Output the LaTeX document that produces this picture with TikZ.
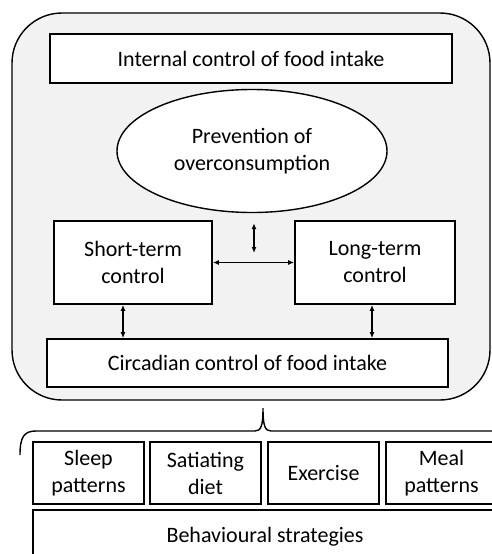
\documentclass[tikz,border=0pt]{standalone}
\usepackage{fontspec}
\setmainfont{Carlito}
\usetikzlibrary{arrows.meta,shapes.geometric}
\definecolor{panelgray}{RGB}{242,242,242}

\begin{document}
\begin{tikzpicture}[
  x=1pt, y=-1pt,
  font=\fontsize{22}{27}\selectfont,
  box/.style={draw, line width=1.7pt, fill=white, align=center, inner sep=0pt},
  oval/.style={draw, ellipse, line width=1.4pt, fill=white, align=center, inner sep=0pt},
  arrow/.style={{Latex[length=6pt,width=5pt]}-{Latex[length=6pt,width=5pt]}, line width=1.4pt}
]
\useasboundingbox (0,0) rectangle (492,554);
\clip (0,0) rectangle (492,554);
% outer panel
\draw[fill=panelgray, line width=1.4pt, rounded corners=50pt] (12,13) rectangle (490,400);
\node[box, minimum width=402pt, minimum height=49pt] (internal) at (251,58.5) {Internal control of food intake};
\node[oval, minimum width=270pt, minimum height=123pt] (prevent) at (252,151) {Prevention of\\overconsumption};
\node[box, minimum width=158pt, minimum height=83pt] (short) at (133,262.5) {Short-term\\control};
\node[box, minimum width=160pt, minimum height=83pt] (long) at (375,262.5) {Long-term\\control};
\node[box, minimum width=401pt, minimum height=48pt] (circadian) at (247.5,363) {Circadian control of food intake};
\coordinate (hub) at (254,253);
\draw[arrow, shorten <=10pt] (prevent.south -| hub) -- (hub);
\draw[arrow] (short) -- (long);
\draw[arrow] ([xshift=-10pt]short.south) -- ([xshift=-10pt]short.south |- circadian.north);
\draw[arrow] ([xshift=-3pt]long.south) -- ([xshift=-3pt]long.south |- circadian.north);
% brace
\draw[line width=1.4pt] (20,455) .. controls (20,437) and (24,431) .. (36,431) -- (255,431)
  .. controls (261,431) and (263,426) .. (263,408)
  .. controls (263,426) and (265,431) .. (271,431) -- (500,431);
% behavioural strategies
\node[box, minimum width=111pt, minimum height=62pt] (sleep) at (88.5,473) {Sleep\\patterns};
\node[box, minimum width=111pt, minimum height=62pt] (diet) at (205.5,473) {Satiating\\diet};
\node[box, minimum width=111pt, minimum height=62pt] (exercise) at (323.5,473) {Exercise};
\node[box, minimum width=111pt, minimum height=62pt] (meal) at (441.5,473) {Meal\\patterns};
\node[box, minimum width=464pt, minimum height=54pt] (behaviour) at (265,537) {Behavioural strategies};
\end{tikzpicture}
\end{document}
